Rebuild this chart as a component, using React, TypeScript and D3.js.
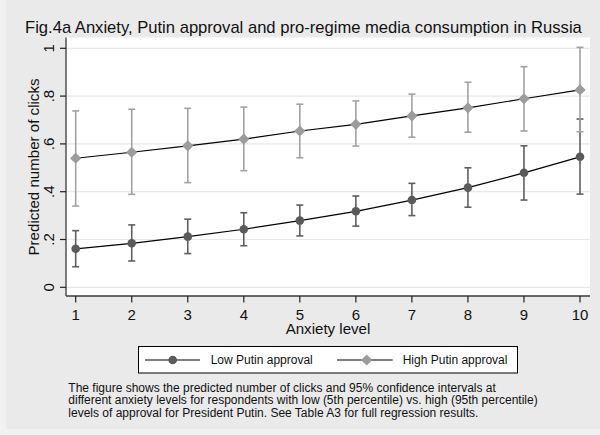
import React from "react";
import * as d3 from "d3";

// Anxiety levels on the x axis
const anxietyLevels = [1, 2, 3, 4, 5, 6, 7, 8, 9, 10];

// Low Putin approval: predicted clicks with 95% CI
const lowPred = [0.161, 0.184, 0.212, 0.243, 0.279, 0.318, 0.365, 0.417, 0.479, 0.546];
const lowLo = [0.086, 0.110, 0.141, 0.174, 0.215, 0.256, 0.300, 0.335, 0.365, 0.390];
const lowHi = [0.237, 0.261, 0.285, 0.312, 0.344, 0.382, 0.435, 0.500, 0.592, 0.704];

// High Putin approval: predicted clicks with 95% CI
const highPred = [0.540, 0.565, 0.592, 0.620, 0.654, 0.682, 0.717, 0.751, 0.789, 0.826];
const highLo = [0.340, 0.389, 0.438, 0.488, 0.542, 0.591, 0.628, 0.649, 0.654, 0.651];
const highHi = [0.738, 0.745, 0.749, 0.754, 0.766, 0.780, 0.808, 0.858, 0.923, 1.004];

const yTicks = [0, 0.2, 0.4, 0.6, 0.8, 1];
const yTickLabels = ["0", ".2", ".4", ".6", ".8", "1"];

const titleText = "Fig.4a Anxiety, Putin approval and pro-regime media consumption in Russia";
const xTitle = "Anxiety level";
const yTitle = "Predicted number of clicks";
const legendLabels = ["Low Putin approval", "High Putin approval"];
const noteLines = [
  "The figure shows the predicted number of clicks and 95% confidence intervals at",
  "different anxiety levels for respondents with low (5th percentile) vs. high (95th percentile)",
  "levels of approval for President Putin. See Table A3 for full regression results.",
];

const FONT = "'Liberation Sans', Arial, Helvetica, sans-serif";

export default function App() {
  const W = 600;
  const H = 435;
  const plot = { left: 66, right: 590, top: 37.5, bottom: 296 };

  const x = d3.scaleLinear().domain([1, 10]).range([75.7, 580]);
  const y = d3.scaleLinear().domain([0, 1]).range([287.3, 48.3]);

  const line = d3
    .line<number>()
    .x((_, i) => x(anxietyLevels[i]))
    .y((d) => y(d));

  const lowColor = "#5a5a5a";
  const lowBar = "#5f5f5f";
  const highColor = "#9c9c9c";
  const highBar = "#a2a2a2";
  const cap = 3.5;

  const diamond = (cx: number, cy: number, r: number) =>
    `M${cx},${cy - r}L${cx + r},${cy}L${cx},${cy + r}L${cx - r},${cy}Z`;

  const series = [
    { pred: lowPred, lo: lowLo, hi: lowHi, bar: lowBar, color: lowColor, shape: "circle" },
    { pred: highPred, lo: highLo, hi: highHi, bar: highBar, color: highColor, shape: "diamond" },
  ];

  return (
    <svg
      width={W}
      height={H}
      style={{ position: "absolute", left: 0, top: 0, display: "block" }}
      fontFamily={FONT}
    >
      <rect x={0} y={0} width={W} height={H} fill="#f1f1f1" />
      <rect x={6} y={0} width={W - 6} height={429} fill="#eaeaea" />
      <text x={25} y={33.3} fontSize={16.6} fill="#111">
        {titleText}
      </text>

      {/* plot region */}
      <rect
        x={plot.left}
        y={plot.top}
        width={plot.right - plot.left}
        height={plot.bottom - plot.top}
        fill="#ffffff"
      />
      {yTicks.map((t) => (
        <line
          key={"g" + t}
          x1={plot.left}
          x2={plot.right}
          y1={y(t)}
          y2={y(t)}
          stroke="#e8e8e8"
          strokeWidth={1.2}
        />
      ))}

      {/* axes */}
      <line x1={plot.left} x2={plot.left} y1={plot.top} y2={plot.bottom} stroke="#3a3a3a" strokeWidth={1.3} />
      <line x1={plot.left} x2={plot.right} y1={plot.bottom} y2={plot.bottom} stroke="#3a3a3a" strokeWidth={1.3} />
      {yTicks.map((t, i) => (
        <g key={"yt" + t}>
          <line x1={plot.left - 6} x2={plot.left} y1={y(t)} y2={y(t)} stroke="#222" strokeWidth={1.2} />
          <text
            transform={`translate(${53.5},${y(t)}) rotate(-90)`}
            textAnchor="middle"
            fontSize={15}
            fill="#111"
          >
            {yTickLabels[i]}
          </text>
        </g>
      ))}
      {anxietyLevels.map((v) => (
        <g key={"xt" + v}>
          <line x1={x(v)} x2={x(v)} y1={plot.bottom} y2={plot.bottom + 6.5} stroke="#222" strokeWidth={1.2} />
          <text x={x(v)} y={320} textAnchor="middle" fontSize={15} fill="#111">
            {v}
          </text>
        </g>
      ))}
      <text x={328} y={333.5} textAnchor="middle" fontSize={15.1} fill="#111">
        {xTitle}
      </text>
      <text
        transform={`translate(${38.5},${167}) rotate(-90)`}
        textAnchor="middle"
        fontSize={15.1}
        fill="#111"
      >
        {yTitle}
      </text>

      {/* series */}
      {series.map((s, si) => (
        <g key={"s" + si}>
          {anxietyLevels.map((v, i) => (
            <g key={i} stroke={s.bar} strokeWidth={1.6}>
              <line x1={x(v)} x2={x(v)} y1={y(s.lo[i])} y2={y(s.hi[i])} />
              <line x1={x(v) - cap} x2={x(v) + cap} y1={y(s.lo[i])} y2={y(s.lo[i])} />
              <line x1={x(v) - cap} x2={x(v) + cap} y1={y(s.hi[i])} y2={y(s.hi[i])} />
            </g>
          ))}
          <path d={line(s.pred) || ""} fill="none" stroke="#000" strokeWidth={1.2} />
          {anxietyLevels.map((v, i) =>
            s.shape === "circle" ? (
              <circle key={"m" + i} cx={x(v)} cy={y(s.pred[i])} r={4.3} fill={s.color} />
            ) : (
              <path key={"m" + i} d={diamond(x(v), y(s.pred[i]), 5.6)} fill={s.color} />
            )
          )}
        </g>
      ))}

      {/* legend */}
      <rect x={138.5} y={346.5} width={379} height={26.5} fill="#ffffff" stroke="#000" strokeWidth={1} />
      <line x1={145} x2={200} y1={360} y2={360} stroke="#000" strokeWidth={1.2} />
      <circle cx={172.7} cy={360} r={4.3} fill={lowColor} />
      <text x={210.7} y={364.3} fontSize={12} fill="#111">
        {legendLabels[0]}
      </text>
      <line x1={337} x2={392.7} y1={360} y2={360} stroke="#000" strokeWidth={1.2} />
      <path d={diamond(366.7, 360, 5.6)} fill={highColor} />
      <text x={402.7} y={364.3} fontSize={12} fill="#111">
        {legendLabels[1]}
      </text>

      {/* note */}
      {noteLines.map((l, i) => (
        <text key={"n" + i} x={68.3} y={391.5 + i * 12.5} fontSize={12} fill="#111">
          {l}
        </text>
      ))}
    </svg>
  );
}
